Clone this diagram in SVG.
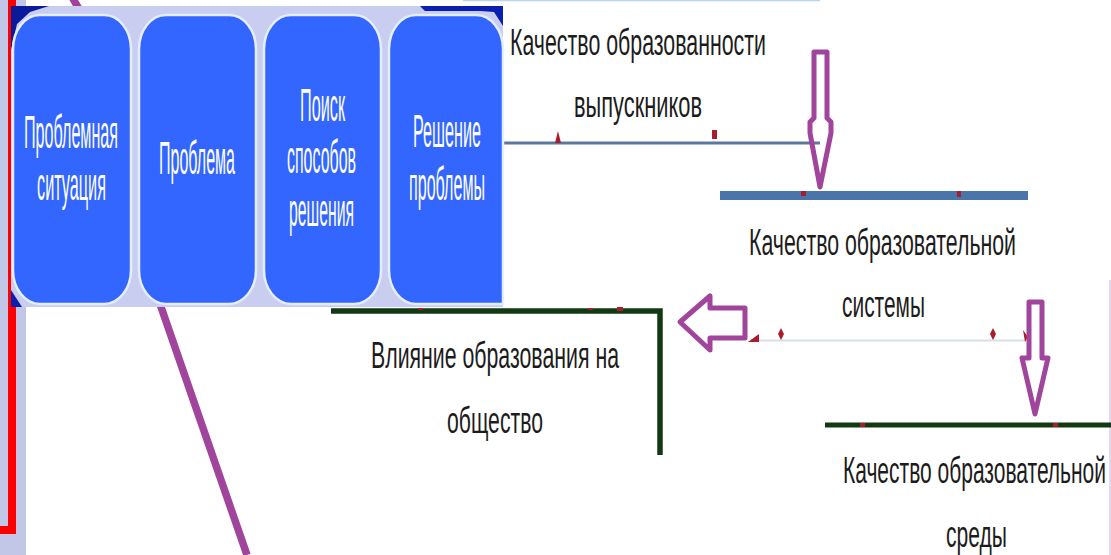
<svg xmlns="http://www.w3.org/2000/svg" width="1111" height="555" viewBox="0 0 1111 555">
<style>
.box{fill:#3366ff;stroke:#e4eeff;stroke-width:2.5}
.w,.d{font-family:"Liberation Sans",Arial,sans-serif;font-size:24px}
.w{fill:#fff}
.d{fill:#1c1c1c}
.arrow{fill:none;stroke:#a0459b;stroke-width:5;stroke-linejoin:round}
.mark{fill:#a81c2c}
</style>
<rect width="1111" height="555" fill="#fff"/>
<g id="backdrop">
<rect x="0" y="0" width="26" height="555" fill="#c2c7e8"/>
<path d="M12 0V530H0" fill="none" stroke="#f00" stroke-width="8"/>
<path d="M463 .5H820" stroke="#b8d6f0" stroke-width="1.500"/>
<path d="M1110 280V555" stroke="#e6d8f0" stroke-width="2"/>
</g>
<g id="connectors" fill="none">
<path d="M160 304L247 555M72 -3L79 9" stroke="#a0459b" stroke-width="7.500"/>
<path d="M503 143H820" stroke="#5d78a0" stroke-width="3"/>
<path d="M720 195.500H1028" stroke="#4a75ab" stroke-width="9"/>
<path d="M750 340.500H1026" stroke="#d8e0e6" stroke-width="2"/>
<path d="M331 311H660V455" stroke="#123a12" stroke-width="5.500"/>
<path d="M825 425H1111" stroke="#123a12" stroke-width="5"/>
<path class="mark" d="M555 143l3-12 3 12z"/>
<rect class="mark" x="712" y="130" width="5" height="9"/>
<rect class="mark" x="801" y="191" width="5" height="5"/>
<rect class="mark" x="957" y="191" width="4" height="6"/>
<path class="mark" d="M748 342l11-8v8z"/>
<path class="mark" d="M781 328l3 6-3 6-3-6zM993 328l3 6-3 6-3-6zM1023 330l5 7-3 5z"/>
<path class="mark" d="M418 308h5v2h-5zM588 308h5v2h-5zM617 307h6v4h-6zM860 423h5v4h-5zM1053 423h5v4h-5z"/>
<path class="arrow" d="M814 52H827V118L831 122V133L820 187L810 133V122L814 118Z"/>
<path class="arrow" d="M745 308V338H710V350L680 322L710 296V308Z"/>
<path class="arrow" d="M1029 302H1042V358H1048L1035 414L1022 358H1029Z"/>
</g>
<g id="panel">
<rect x="11" y="6" width="492" height="301" fill="#c9cdf0"/>
<path d="M11 6H49L30 12L17 24L11 50Z" fill="#0a1a9a"/>
<path d="M11 290L22 307H11Z" fill="#0a1fb0"/>
<path d="M420 6H503V26L494 12L480 11H425Z" fill="#0a1fb0"/>
</g>
<g id="node-1">
<rect class="box" x="13" y="15" width="118" height="289" rx="27" ry="34"/>
<text class="w" transform="translate(24,148) scale(1,1.95)" textLength="94" lengthAdjust="spacingAndGlyphs">Проблемная</text>
<text class="w" transform="translate(37,200) scale(1,1.95)" textLength="69" lengthAdjust="spacingAndGlyphs">ситуация</text>
</g>
<g id="node-2">
<rect class="box" x="139" y="15" width="117" height="289" rx="27" ry="34"/>
<text class="w" transform="translate(159,174) scale(1,1.95)" textLength="76" lengthAdjust="spacingAndGlyphs">Проблема</text>
</g>
<g id="node-3">
<rect class="box" x="264" y="15" width="117" height="289" rx="27" ry="34"/>
<text class="w" transform="translate(300,121) scale(1,1.95)" textLength="45" lengthAdjust="spacingAndGlyphs">Поиск</text>
<text class="w" transform="translate(287,173) scale(1,1.95)" textLength="69" lengthAdjust="spacingAndGlyphs">способов</text>
<text class="w" transform="translate(289,226) scale(1,1.95)" textLength="65" lengthAdjust="spacingAndGlyphs">решения</text>
</g>
<g id="node-4">
<path class="box" d="M503 304H416A27 34 0 0 1 389 270V49A27 34 0 0 1 416 15H476A27 34 0 0 1 503 49Z"/>
<text class="w" transform="translate(413,147) scale(1,1.95)" textLength="68" lengthAdjust="spacingAndGlyphs">Решение</text>
<text class="w" transform="translate(409,200) scale(1,1.95)" textLength="76" lengthAdjust="spacingAndGlyphs">проблемы</text>
</g>
<g id="label-graduates">
<text class="d" transform="translate(510,55) scale(1,1.55)" textLength="256" lengthAdjust="spacingAndGlyphs">Качество образованности</text>
<text class="d" transform="translate(574,117) scale(1,1.55)" textLength="128" lengthAdjust="spacingAndGlyphs">выпускников</text>
</g>
<g id="label-system">
<text class="d" transform="translate(749,255) scale(1,1.55)" textLength="267" lengthAdjust="spacingAndGlyphs">Качество образовательной</text>
<text class="d" transform="translate(842,317) scale(1,1.55)" textLength="83" lengthAdjust="spacingAndGlyphs">системы</text>
</g>
<g id="label-society">
<text class="d" transform="translate(371,368) scale(1,1.55)" textLength="248" lengthAdjust="spacingAndGlyphs">Влияние образования на</text>
<text class="d" transform="translate(447,433) scale(1,1.55)" textLength="96" lengthAdjust="spacingAndGlyphs">общество</text>
</g>
<g id="label-environment">
<text class="d" style="font-size:21.500px" transform="translate(843,483) scale(1,1.73)" textLength="263" lengthAdjust="spacingAndGlyphs">Качество образовательной</text>
<text class="d" transform="translate(946,547) scale(1,1.55)" textLength="61" lengthAdjust="spacingAndGlyphs">среды</text>
</g>
</svg>
